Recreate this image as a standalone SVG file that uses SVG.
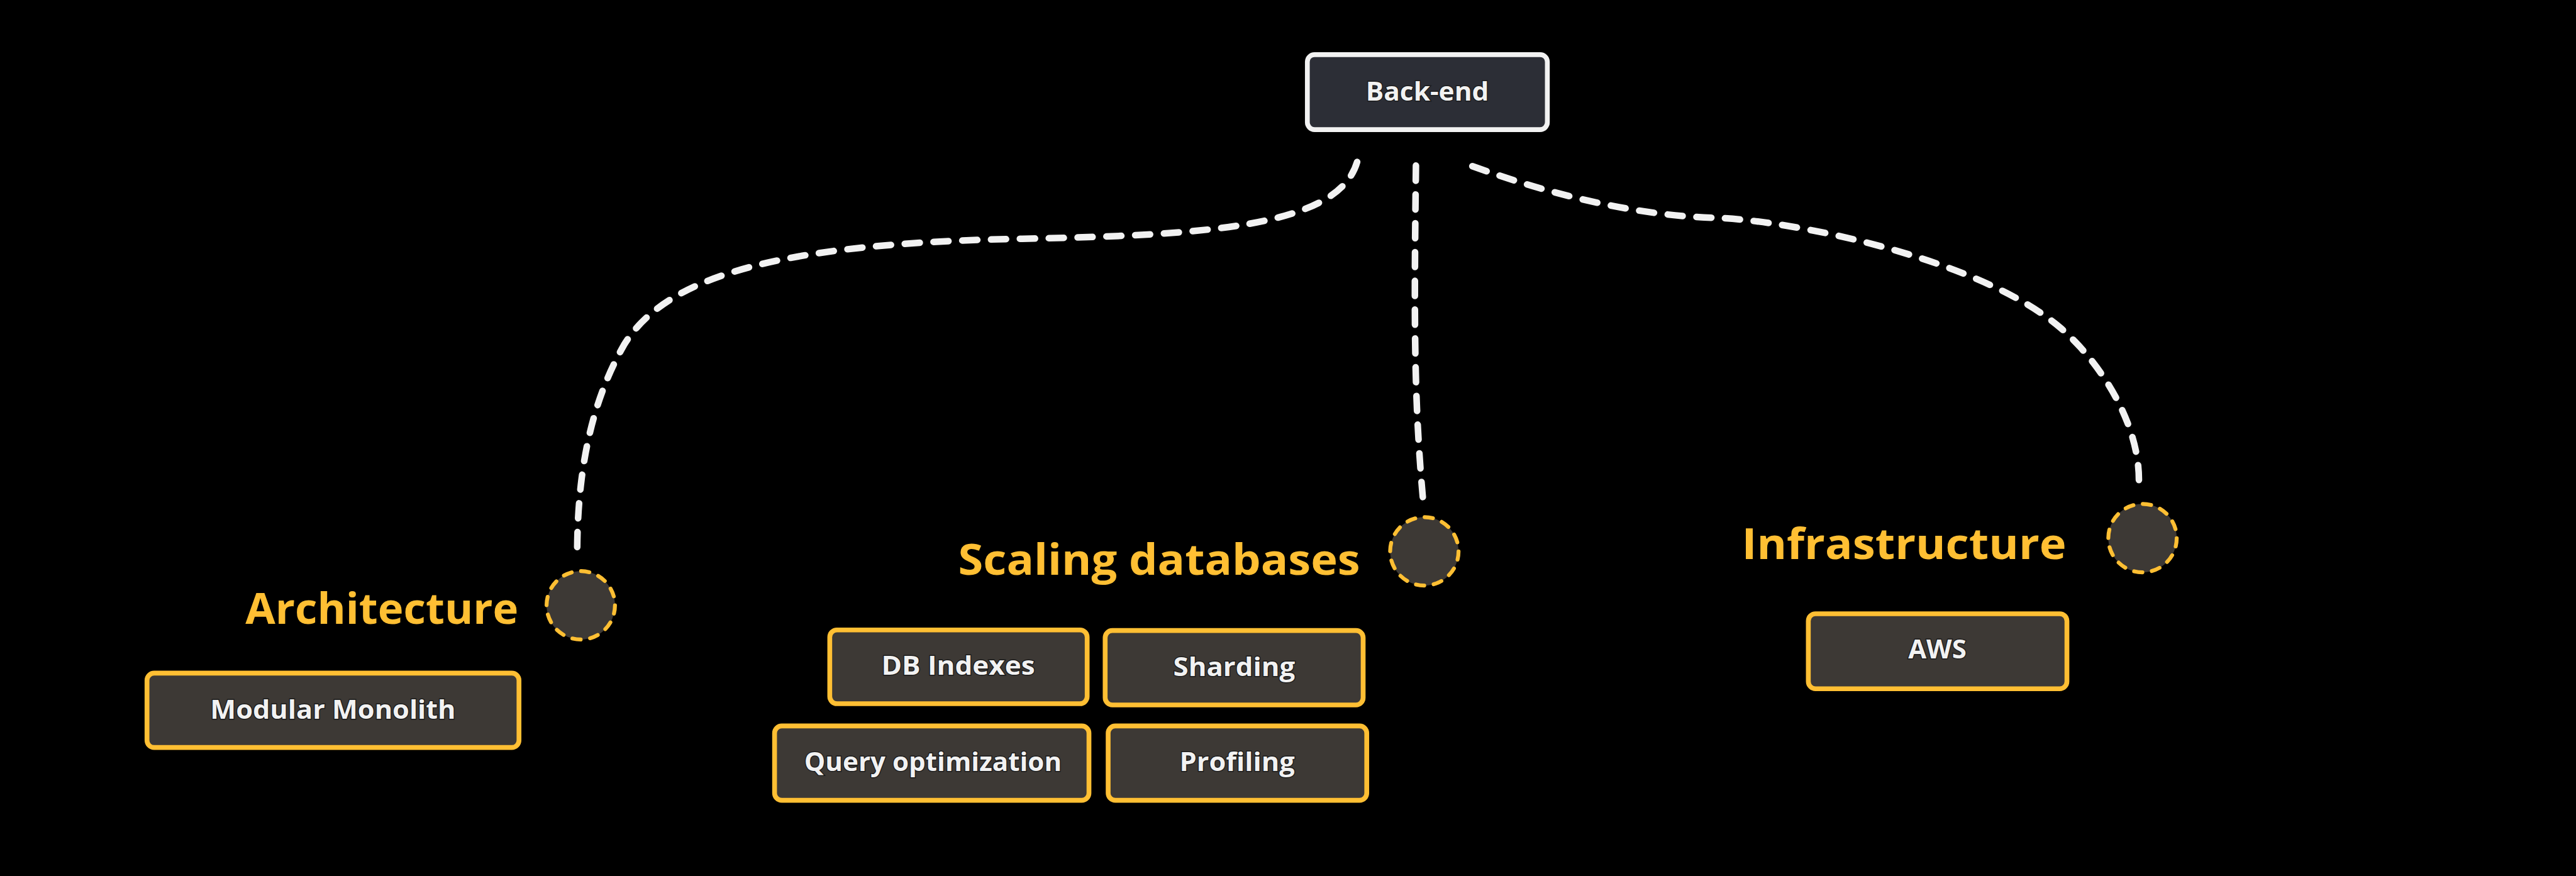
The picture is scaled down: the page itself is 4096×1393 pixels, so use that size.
<svg xmlns="http://www.w3.org/2000/svg" width="4096" height="1393" viewBox="0 0 4096 1393">
<style>
.bg{fill:#000}
.box{fill:#3d3935;stroke:#ffbf33;stroke-width:8}
.root{fill:#2c2e36;stroke:#f2f2f2;stroke-width:8}
.dot{fill:#3d3935;stroke:#ffbf33;stroke-width:6.5;stroke-dasharray:14 15.85;stroke-linecap:round}
.lbl{font-family:"Open Sans","Noto Sans",sans-serif;font-weight:700;font-size:43px;fill:#f2f2f2;text-anchor:middle;stroke:#1c1c1c;stroke-width:3;paint-order:stroke}
.head{font-family:"Open Sans","Noto Sans",sans-serif;font-weight:700;font-size:72px;fill:#ffbf33}
.conn{fill:none;stroke:#f2f2f2;stroke-width:11;stroke-dasharray:25 23;stroke-linecap:round}
</style>
<rect class="bg" x="0" y="0" width="4096" height="1393"/>
<g transform="scale(0.954)">
<g id="connectors">
<path class="conn" d="M2262,270 C2230,380 2000,392 1704,398 C1300,405 1110,460 1040,575 C980,680 962,800 962,925"/>
<path class="conn" d="M2360,276 C2357,520 2356,660 2372,835"/>
<path class="conn" d="M2454,277 C2600,330 2740,360 2856,363 C2980,366 3300,430 3436,548 C3496,600 3565,700 3565,800"/>
</g>
<g id="backend">
<rect class="root" x="2179" y="91" width="400" height="125" rx="12"/>
<text class="lbl" x="2379" y="168" textLength="205" lengthAdjust="spacingAndGlyphs">Back-end</text>
</g>
<g id="architecture">
<text class="head" x="409" y="1040" textLength="455" lengthAdjust="spacingAndGlyphs">Architecture</text>
<circle class="dot" cx="968" cy="1009" r="57"/>
</g>
<g id="modular-monolith">
<rect class="box" x="245" y="1122" width="620" height="124" rx="12"/>
<text class="lbl" x="555" y="1198" textLength="409" lengthAdjust="spacingAndGlyphs">Modular Monolith</text>
</g>
<g id="scaling-databases">
<text class="head" x="1597" y="958" textLength="670" lengthAdjust="spacingAndGlyphs">Scaling databases</text>
<circle class="dot" cx="2374" cy="919" r="57"/>
</g>
<g id="db-indexes">
<rect class="box" x="1383" y="1050" width="429" height="123" rx="12"/>
<text class="lbl" x="1597" y="1125" textLength="256" lengthAdjust="spacingAndGlyphs">DB Indexes</text>
</g>
<g id="sharding">
<rect class="box" x="1842" y="1051" width="430" height="124" rx="12"/>
<text class="lbl" x="2057" y="1127" textLength="203" lengthAdjust="spacingAndGlyphs">Sharding</text>
</g>
<g id="query-optimization">
<rect class="box" x="1291" y="1210" width="524" height="124" rx="12"/>
<text class="lbl" x="1555" y="1285" textLength="429" lengthAdjust="spacingAndGlyphs">Query optimization</text>
</g>
<g id="profiling">
<rect class="box" x="1847" y="1210" width="431" height="124" rx="12"/>
<text class="lbl" x="2062" y="1285" textLength="192" lengthAdjust="spacingAndGlyphs">Profiling</text>
</g>
<g id="infrastructure">
<text class="head" x="2903" y="932" textLength="541" lengthAdjust="spacingAndGlyphs">Infrastructure</text>
<circle class="dot" cx="3571" cy="897" r="57"/>
</g>
<g id="aws">
<rect class="box" x="3014" y="1023" width="431" height="125" rx="12"/>
<text class="lbl" x="3229" y="1098" textLength="97" lengthAdjust="spacingAndGlyphs">AWS</text>
</g>
</g>
</svg>
